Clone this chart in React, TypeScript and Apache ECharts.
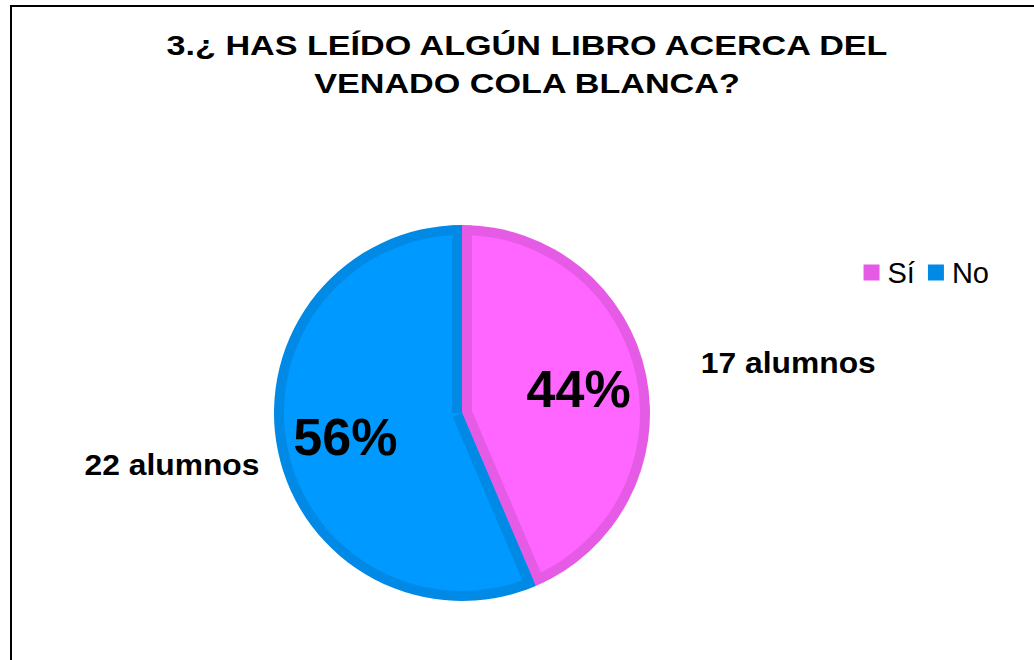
import React, { useEffect, useRef } from 'react';
import * as echarts from 'echarts';

const titleLines = ['3.¿ HAS LEÍDO ALGÚN LIBRO ACERCA DEL', 'VENADO COLA BLANCA?'];
const categories = ['Sí', 'No'];
const values = [17, 22];
const countLabels = ['17 alumnos', '22 alumnos'];
const fillColors = ['#FF66FF', '#0099FF'];
const edgeColors = ['#E55BE5', '#0089E5'];

const FONT = "'Liberation Sans', Arial, Helvetica, sans-serif";
const CENTER = [462, 413];
const RADIUS = 188;
const EDGE = 10;
const PCT_DIST = 119;
const OUTER_DIST = [333, 296];
const OUTER_NUDGE = [[0, 16], [0, -7]];

export default function App() {
  const ref = useRef<HTMLDivElement>(null);
  useEffect(() => {
    const chart = echarts.init(ref.current!, null, { renderer: 'svg' });
    const total = values.reduce((a, b) => a + b, 0);

    const makeSeries = (k: number) => ({
      type: 'custom',
      name: categories[k],
      coordinateSystem: 'none',
      silent: true,
      itemStyle: { color: edgeColors[k] },
      data: [[values[k]]],
      z: 2,
      renderItem: (params: any, api: any) => {
        const v = api.value(0);
        const before = values.slice(0, k).reduce((a, b) => a + b, 0);
        const a0 = -Math.PI / 2 + (2 * Math.PI * before) / total;
        const a1 = a0 + (2 * Math.PI * v) / total;
        const [cx, cy] = CENTER;
        const R = RADIUS;
        const u0 = [Math.cos(a0), Math.sin(a0)];
        const u1 = [Math.cos(a1), Math.sin(a1)];
        const n0 = [-u0[1], u0[0]];
        const n1 = [u1[1], -u1[0]];
        const strip = (u: number[], n: number[]) => {
          const L = R - 0.4;
          return [
            [cx, cy],
            [cx + L * u[0], cy + L * u[1]],
            [cx + L * u[0] + EDGE * n[0], cy + L * u[1] + EDGE * n[1]],
            [cx + EDGE * n[0], cy + EDGE * n[1]],
          ];
        };
        const am = (a0 + a1) / 2;
        const d = [Math.cos(am), Math.sin(am)];
        const pct = Math.round((v / total) * 100) + '%';
        return {
          type: 'group',
          children: [
            {
              type: 'sector',
              shape: { cx, cy, r0: 0, r: R, startAngle: a0, endAngle: a1, clockwise: true },
              style: { fill: edgeColors[k] },
            },
            {
              type: 'sector',
              shape: { cx, cy, r0: 0, r: R - EDGE, startAngle: a0, endAngle: a1, clockwise: true },
              style: { fill: fillColors[k] },
            },
            { type: 'polygon', shape: { points: strip(u0, n0) }, style: { fill: edgeColors[k] } },
            { type: 'polygon', shape: { points: strip(u1, n1) }, style: { fill: edgeColors[k] } },
            {
              type: 'text',
              x: cx + PCT_DIST * d[0],
              y: cy + PCT_DIST * d[1],
              z2: 10,
              style: {
                text: pct,
                fontFamily: FONT,
                fontWeight: 'bold',
                fontSize: 52,
                fill: '#000',
                align: 'center',
                verticalAlign: 'middle',
              },
            },
            {
              type: 'text',
              x: cx + OUTER_DIST[k] * d[0] + OUTER_NUDGE[k][0],
              y: cy + OUTER_DIST[k] * d[1] + OUTER_NUDGE[k][1],
              scaleX: 1.06,
              z2: 10,
              style: {
                text: countLabels[k],
                fontFamily: FONT,
                fontWeight: 'bold',
                fontSize: 30,
                fill: '#000',
                align: 'center',
                verticalAlign: 'middle',
              },
            },
          ],
        };
      },
    });

    chart.setOption({
      animation: false,
      backgroundColor: '#fff',
      color: edgeColors,
      legend: {
        data: categories,
        right: 45,
        top: 258,
        padding: 0,
        icon: 'rect',
        itemWidth: 16,
        itemHeight: 16,
        itemGap: 13,
        selectedMode: false,
        textStyle: { fontFamily: FONT, fontSize: 29, color: '#000', padding: [0, 0, 0, 3] },
      },
      graphic: [
        {
          type: 'rect',
          x: 11,
          y: 6,
          shape: { x: 0, y: 0, width: 1100, height: 700 },
          style: { fill: 'none', stroke: '#000', lineWidth: 2 },
          silent: true,
        },
        ...titleLines.map((line, i) => ({
          type: 'text',
          x: 527,
          y: 46 + i * 37.5,
          scaleX: 1.22,
          silent: true,
          style: {
            text: line,
            fontFamily: FONT,
            fontWeight: 'bold',
            fontSize: 28,
            fill: '#000',
            align: 'center',
            verticalAlign: 'middle',
          },
        })),
      ],
      series: [makeSeries(0), makeSeries(1)],
    });
    return () => chart.dispose();
  }, []);
  return (
    <div
      ref={ref}
      style={{ position: 'fixed', left: 0, top: 0, width: 1034, height: 660 }}
    />
  );
}
